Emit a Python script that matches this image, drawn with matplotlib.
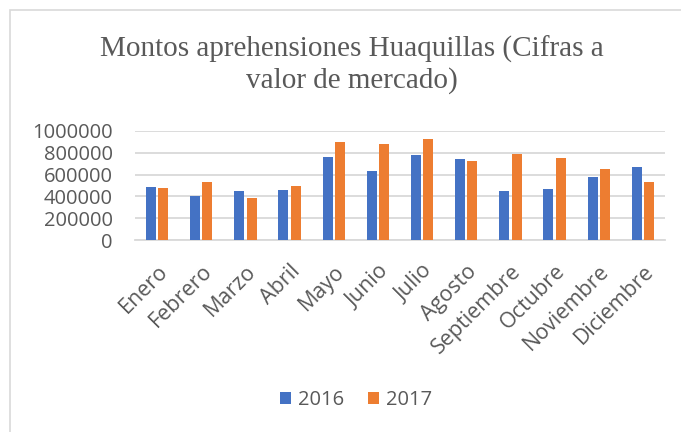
import matplotlib
matplotlib.use("Agg")
import matplotlib.pyplot as plt
import numpy as np
from matplotlib.patches import Rectangle

months = ["Enero", "Febrero", "Marzo", "Abril", "Mayo", "Junio", "Julio",
          "Agosto", "Septiembre", "Octubre", "Noviembre", "Diciembre"]
v2016 = [485000, 400000, 445000, 455000, 762000, 630000, 777000,
         746000, 452000, 467000, 575000, 670000]
v2017 = [480000, 528000, 381000, 497000, 902000, 884000, 923000,
         721000, 785000, 750000, 655000, 528000]
series_labels = ["2016", "2017"]
yticks = [0, 200000, 400000, 600000, 800000, 1000000]

c16 = "#4472C4"
c17 = "#ED7D31"
txt = "#595959"
grid = "#D9D9D9"
fs = 14.5

fig = plt.figure(figsize=(6.81, 4.32), dpi=100)
fig.patch.set_facecolor("white")
fig.patches.append(Rectangle((10/681, -0.05), 1.2, (1 - 10/432) + 0.05,
                             transform=fig.transFigure, fill=False,
                             edgecolor=grid, linewidth=1.2))

ax = fig.add_axes([135/681, 1 - 240/432, (665 - 135)/681, (240 - 131)/432])
x = np.arange(len(months))
w = 0.225
ax.bar(x - 0.14, v2016, width=w, color=c16, label=series_labels[0], zorder=3)
ax.bar(x + 0.14, v2017, width=w, color=c17, label=series_labels[1], zorder=3)

ax.set_xlim(-0.5, len(months) - 0.5)
ax.set_ylim(0, 1000000)
ax.set_yticks(yticks)
ax.set_yticklabels([str(v) for v in yticks], fontfamily="Open Sans",
                   fontsize=fs, color=txt)
ax.set_xticks(x)
ax.set_xticklabels(months, rotation=45, ha="right", rotation_mode="anchor",
                   fontfamily="Open Sans", fontsize=15.5, color=txt)
ax.tick_params(axis="both", length=0)
ax.tick_params(axis="x", pad=15)
ax.tick_params(axis="y", pad=16)
ax.grid(axis="y", color=grid, linewidth=1.3, zorder=0)
for s in ["top", "right", "left"]:
    ax.spines[s].set_visible(False)
ax.spines["bottom"].set_color(grid)
ax.spines["bottom"].set_linewidth(1.3)
ax.spines["bottom"].set_zorder(1)

fig.text(352/681, 1 - 65/432, "Montos aprehensiones Huaquillas (Cifras a\nvalor de mercado)",
         ha="center", va="center", fontfamily="Liberation Serif", fontsize=21,
         color=txt, linespacing=1.22)

leg = fig.legend(loc="center", bbox_to_anchor=(356/681, 1 - 400/432), ncol=2,
                 frameon=False, prop={"family": "Open Sans", "size": fs},
                 handlelength=0.55, handleheight=0.55, handletextpad=0.35,
                 columnspacing=1.2)
for t in leg.get_texts():
    t.set_color(txt)

fig.savefig("out.png", dpi=100)
